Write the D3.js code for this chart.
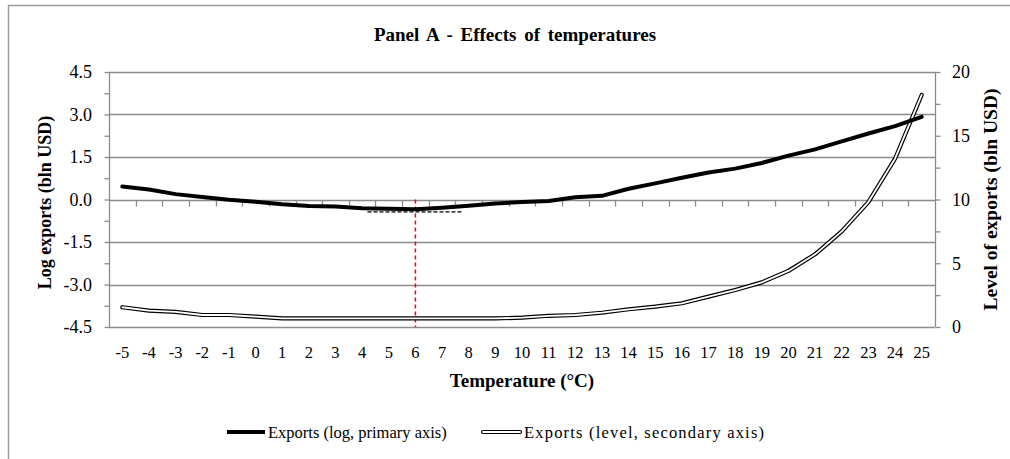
<!DOCTYPE html>
<html>
<head>
<meta charset="utf-8">
<script src="https://cdn.jsdelivr.net/npm/d3@7"></script>
<style>
  body { margin: 0; background: #fff; }
</style>
</head>
<body>
<div id="chart"></div>
<script>
// temperatures on the category axis
const temps = d3.range(-5, 26);

// log exports (primary axis)
const logExports = [0.46, 0.35, 0.19, 0.09, -0.01, -0.08, -0.17, -0.23, -0.25, -0.31, -0.33, -0.34,
  -0.29, -0.22, -0.14, -0.09, -0.05, 0.08, 0.13, 0.38, 0.57, 0.77, 0.95, 1.09, 1.29, 1.55,
  1.77, 2.05, 2.33, 2.59, 2.92];

// level of exports (secondary axis)
const levelExports = [1.55, 1.28, 1.18, 0.94, 0.94, 0.81, 0.68, 0.68, 0.68, 0.68, 0.68, 0.68,
  0.68, 0.68, 0.68, 0.73, 0.88, 0.94, 1.12, 1.39, 1.6, 1.86, 2.38, 2.9, 3.5, 4.4,
  5.7, 7.5, 9.8, 13.2, 18.2];

// optimum temperature and its band
const optimumTemp = [6];
const optimumBand = [4.2, 7.75];
const optimumBandLevel = [-0.44];

const leftTicks = [-4.5, -3.0, -1.5, 0.0, 1.5, 3.0, 4.5];
const rightTicks = [0, 5, 10, 15, 20];

const W = 1010, H = 459;
const margin = {top: 72, bottom: 132, left: 109, right: 75};
const FONT = '"Liberation Serif", "Times New Roman", Times, serif';

const svg = d3.select('#chart')
  .append('svg')
  .attr('width', W)
  .attr('height', H)
  .attr('font-family', FONT);

// chart frame
svg.append('rect')
  .attr('x', 8.5).attr('y', 5.5)
  .attr('width', W + 10).attr('height', H + 10)
  .attr('fill', 'none')
  .attr('stroke', '#9a9a9a')
  .attr('stroke-width', 1.5);

const x0 = margin.left, x1 = W - margin.right;
const y0 = margin.top, y1 = H - margin.bottom;

const xband = d3.scaleBand().domain(temps).range([x0, x1]);
// continuous version for fractional temperatures
const xlin = d3.scaleLinear()
  .domain([temps[0], temps[temps.length - 1]])
  .range([xband(temps[0]) + xband.bandwidth() / 2, xband(temps[temps.length - 1]) + xband.bandwidth() / 2]);

const yleft = d3.scaleLinear().domain([-4.5, 4.5]).range([y1, y0]);
const yright = d3.scaleLinear().domain([0, 20]).range([y1, y0]);

// grid lines
svg.append('g')
  .selectAll('line')
  .data(leftTicks)
  .join('line')
  .attr('x1', x0).attr('x2', x1)
  .attr('y1', d => Math.round(yleft(d)) + 0.5)
  .attr('y2', d => Math.round(yleft(d)) + 0.5)
  .attr('stroke', '#8c8c8c')
  .attr('stroke-width', 1.3);

// left axis
const leftMinor = d3.range(-4.5, 4.51, 0.75);
const gl = svg.append('g').attr('transform', `translate(${x0 + 0.5},0)`);
gl.call(d3.axisLeft(yleft).tickValues(leftMinor).tickSize(5).tickFormat(''));
gl.call(g => g.selectAll('.tick line, .domain').attr('stroke', '#8c8c8c').attr('stroke-width', 1.3));
gl.call(g => g.select('.domain').attr('d', `M0,${y0}V${y1}`));
svg.append('g')
  .selectAll('text')
  .data(leftTicks)
  .join('text')
  .attr('x', 92)
  .attr('y', d => yleft(d))
  .attr('dy', '0.35em')
  .attr('text-anchor', 'end')
  .attr('font-size', 18)
  .text(d => d.toFixed(1));

// right axis
const rightMinor = d3.range(0, 20.1, 2.5);
const gr = svg.append('g').attr('transform', `translate(${x1 + 0.5},0)`);
gr.call(d3.axisRight(yright).tickValues(rightMinor).tickSize(5).tickFormat(''));
gr.call(g => g.selectAll('.tick line, .domain').attr('stroke', '#8c8c8c').attr('stroke-width', 1.3));
gr.call(g => g.select('.domain').attr('d', `M0,${y0}V${y1}`));
svg.append('g')
  .selectAll('text')
  .data(rightTicks)
  .join('text')
  .attr('x', 952)
  .attr('y', d => yright(d))
  .attr('dy', '0.35em')
  .attr('font-size', 18)
  .text(d => d);

// category axis at zero, ticks between categories
const y0line = Math.round(yleft(0)) + 0.5;
svg.append('g')
  .selectAll('line')
  .data(temps.slice(1))
  .join('line')
  .attr('x1', d => Math.round(xband(d)) + 0.5)
  .attr('x2', d => Math.round(xband(d)) + 0.5)
  .attr('y1', y0line).attr('y2', y0line + 6)
  .attr('stroke', '#8c8c8c')
  .attr('stroke-width', 1.3);

svg.append('g')
  .selectAll('text')
  .data(temps)
  .join('text')
  .attr('x', d => xband(d) + xband.bandwidth() / 2)
  .attr('y', 352)
  .attr('dy', '0.35em')
  .attr('text-anchor', 'middle')
  .attr('font-size', 16.5)
  .text(d => d);

// optimum markers
svg.append('g')
  .selectAll('line')
  .data(optimumTemp)
  .join('line')
  .attr('x1', d => xlin(d)).attr('x2', d => xlin(d))
  .attr('y1', yleft(0)).attr('y2', y1)
  .attr('stroke', '#ff0000')
  .attr('stroke-width', 1.5)
  .attr('stroke-dasharray', '4,3');

svg.append('line')
  .attr('x1', xlin(optimumBand[0])).attr('x2', xlin(optimumBand[1]))
  .attr('y1', yleft(optimumBandLevel[0])).attr('y2', yleft(optimumBandLevel[0]))
  .attr('stroke', '#000')
  .attr('stroke-width', 1.2)
  .attr('stroke-dasharray', '4,2');

// series
const lineLeft = d3.line()
  .x((d, i) => xband(temps[i]) + xband.bandwidth() / 2)
  .y(d => yleft(d));
const lineRight = d3.line()
  .x((d, i) => xband(temps[i]) + xband.bandwidth() / 2)
  .y(d => yright(d));

svg.append('path')
  .datum(levelExports)
  .attr('d', lineRight)
  .attr('fill', 'none')
  .attr('stroke', '#000')
  .attr('stroke-width', 4.2)
  .attr('stroke-linejoin', 'round')
  .attr('stroke-linecap', 'round');
svg.append('path')
  .datum(levelExports)
  .attr('d', lineRight)
  .attr('fill', 'none')
  .attr('stroke', '#fff')
  .attr('stroke-width', 1.8)
  .attr('stroke-linejoin', 'round')
  .attr('stroke-linecap', 'round');

svg.append('path')
  .datum(logExports)
  .attr('d', lineLeft)
  .attr('fill', 'none')
  .attr('stroke', '#000')
  .attr('stroke-width', 4)
  .attr('stroke-linejoin', 'round')
  .attr('stroke-linecap', 'round');

// titles
svg.append('text')
  .attr('x', 515).attr('y', 34)
  .attr('dy', '0.35em')
  .attr('text-anchor', 'middle')
  .attr('font-size', 19)
  .attr('font-weight', 'bold')
  .attr('word-spacing', 3)
  .text('Panel A - Effects of temperatures');

svg.append('text')
  .attr('transform', `translate(45,${(y0 + y1) / 2 + 3}) rotate(-90)`)
  .attr('dy', '0.35em')
  .attr('text-anchor', 'middle')
  .attr('font-size', 18)
  .attr('font-weight', 'bold')
  .text('Log exports (bln USD)');

svg.append('text')
  .attr('transform', `translate(990,${(y0 + y1) / 2}) rotate(-90)`)
  .attr('dy', '0.35em')
  .attr('text-anchor', 'middle')
  .attr('font-size', 19.5)
  .attr('font-weight', 'bold')
  .text('Level of exports (bln USD)');

svg.append('text')
  .attr('x', (x0 + x1) / 2).attr('y', 380)
  .attr('dy', '0.35em')
  .attr('text-anchor', 'middle')
  .attr('font-size', 19)
  .attr('font-weight', 'bold')
  .text('Temperature (°C)');

// legend
const legendItems = ['Exports (log, primary axis)', 'Exports (level, secondary axis)'];
const legendX = [227, 483];
const legendLen = [null, 240];
const lg = svg.append('g');
legendItems.forEach((name, i) => {
  const g = lg.append('g').attr('transform', `translate(${legendX[i]},432)`);
  if (i === 0) {
    g.append('line').attr('x1', 0).attr('x2', 38)
      .attr('stroke', '#000').attr('stroke-width', 4);
  } else {
    g.append('line').attr('x1', 0).attr('x2', 37)
      .attr('stroke', '#000').attr('stroke-width', 4.2).attr('stroke-linecap', 'round');
    g.append('line').attr('x1', 0).attr('x2', 37)
      .attr('stroke', '#fff').attr('stroke-width', 1.8).attr('stroke-linecap', 'round');
  }
  const t = g.append('text')
    .attr('x', 41)
    .attr('dy', '0.35em')
    .attr('font-size', 16.5)
    .text(name);
  if (legendLen[i]) t.attr('textLength', legendLen[i]).attr('lengthAdjust', 'spacing');
});
</script>
</body>
</html>
